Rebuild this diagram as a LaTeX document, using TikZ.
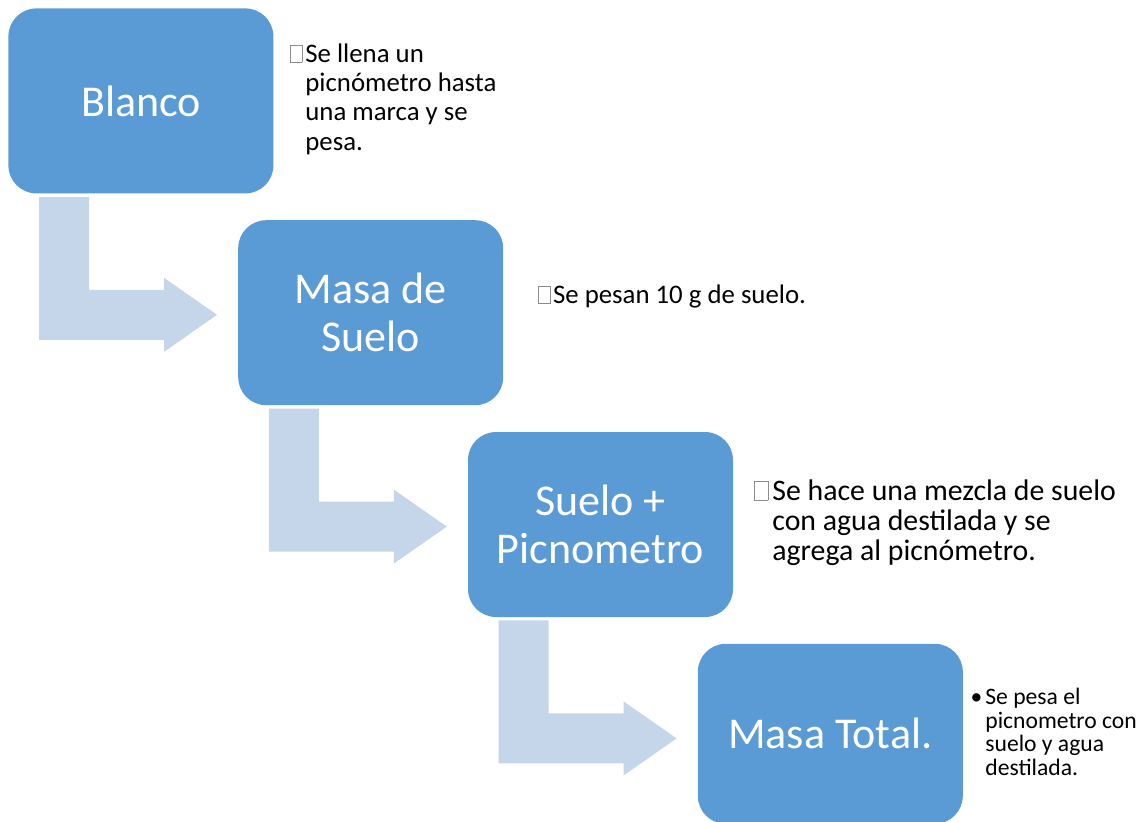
\documentclass[tikz,border=0pt]{standalone}
\usepackage{fontspec}
\setmainfont{Carlito}
\usetikzlibrary{positioning,calc}
\definecolor{azul}{HTML}{5B9BD5}
\definecolor{celeste}{HTML}{C5D5EA}
% caja gris de un caracter que falta
\newcommand\tofu{\textcolor{black!45}{\fboxsep=0pt\fboxrule=0.35pt\fbox{\rule{0pt}{0.62em}\hspace{0.42em}}}}

\begin{document}
\begin{tikzpicture}[x=0.5pt,y=-0.5pt,node distance=13pt and -18pt]
\tikzstyle{paso} = [rectangle, fill=azul, text=white, rounded corners=14pt, minimum width=132.5pt, minimum height=92.5pt, align=center, inner sep=0pt, font=\fontsize{22}{24}\selectfont]
\tikzstyle{nota} = [anchor=north west, align=left, inner sep=0pt, font=\fontsize{13.4}{14.7}\selectfont]
\tikzstyle{flecha} = [fill=celeste]
\useasboundingbox (0,0) rectangle (1145,821);
\node[paso, anchor=north west] (blanco) at (8,8) {Blanco};
\node[paso][below right=of blanco](masa){Masa de\\Suelo};
\node[paso][below right=of masa](mezcla){Suelo +\\Picnometro};
\node[paso, minimum height=90pt][below right=of mezcla](total){Masa Total.};
% flechas dobladas
\foreach \a/\b in {blanco/masa, masa/mezcla, mezcla/total}
  \fill[flecha] ($(\a.south west)+(31,3)$) -- ++(50,0) -- ++(0,93) -- ++(75,0) -- ++(0,-12)
    -- ($(\a.south west)+(209,121)$) -- ++(-53,37) -- ++(0,-12) -- ++(-125,0) -- cycle;
\node[nota] (n1) at (305,43) {\llap{\tofu\hspace{1.5pt}}Se llena un\\picnómetro hasta\\una marca y se\\pesa.};
\node[nota, anchor=base west] (n2) at (538,303) {\tofu\hspace{1pt}Se pesan 10 g de suelo.};
\node[nota, font=\fontsize{14.9}{15.2}\selectfont] (n3) at (772,479) {\llap{\tofu\hspace{2pt}}Se hace una mezcla de suelo\\con agua destilada y se\\agrega al picnómetro.};
\node[nota, font=\fontsize{11.8}{11.7}\selectfont] (n4) at (985,688) {\llap{\textbullet\hspace{1.5pt}}Se pesa el\\picnometro con\\suelo y agua\\destilada.};
\end{tikzpicture}
\end{document}
